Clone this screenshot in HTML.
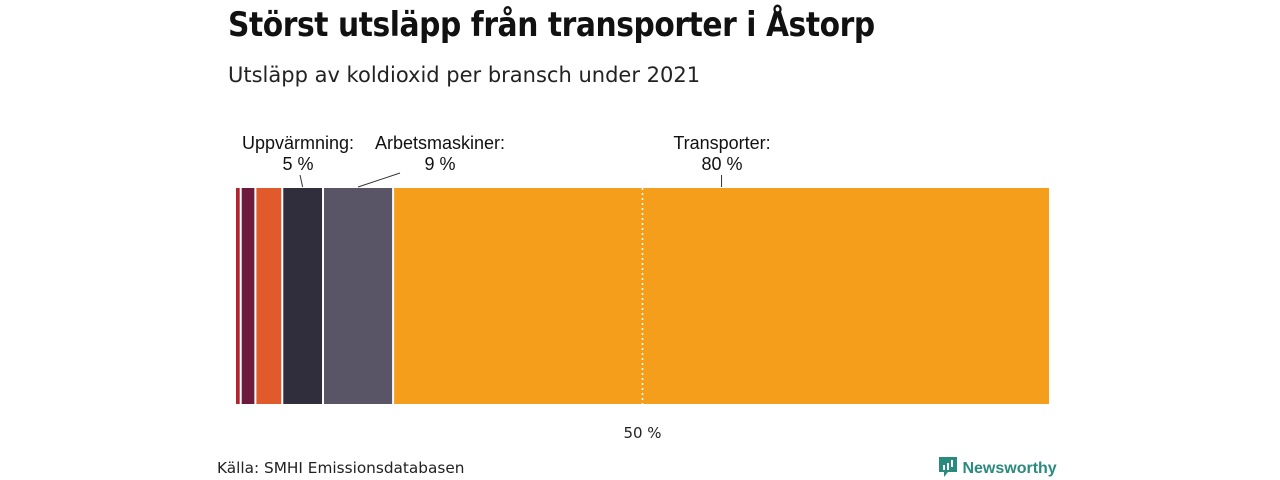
<!DOCTYPE html>
<html><head><meta charset="utf-8"><style>
body{margin:0;width:1280px;height:480px;background:#fff;font-family:"Liberation Sans",sans-serif;position:relative;overflow:hidden}
.t{position:absolute;white-space:nowrap}
</style></head><body>
<div class="t" style="left:228px;top:5px;font-size:34px;font-weight:bold;color:#111;font-family:'DejaVu Sans',sans-serif;letter-spacing:-0.5px;transform:scaleX(0.875);transform-origin:0 0">Störst utsläpp från transporter i Åstorp</div>
<div class="t" style="left:228px;top:63px;font-size:21px;color:#222;font-family:'DejaVu Sans',sans-serif">Utsläpp av koldioxid per bransch under 2021</div>
<svg id="c" width="1280" height="480" style="position:absolute;left:0;top:0"></svg>
<div class="t" style="left:217px;top:459px;font-size:15.3px;color:#222;font-family:'DejaVu Sans',sans-serif">Källa: SMHI Emissionsdatabasen</div>
<div class="t" style="left:938px;top:456px;font-size:16px;font-weight:bold;color:#2a8a7e">
<svg width="20" height="22" style="vertical-align:-5px" viewBox="0 0 20 22"><path d="M1 1h18v15h-9l-4 5v-5H1z" fill="#2a8a7e"/><rect x="5" y="9" width="2" height="5" fill="#fff"/><rect x="9" y="7" width="2" height="7" fill="#fff"/><rect x="13" y="4" width="2" height="7" fill="#fff"/></svg> Newsworthy</div>
<script>
const categories=["Övrigt","Industri","Jordbruk","Uppvärmning","Arbetsmaskiner","Transporter"];
const values=[0.7,1.8,3.3,5.0,8.6,80.6];
const colors=["#b5232e","#6e1a3d","#e05a2b","#302e3c","#595566","#f59e1b"];
const labels=[null,null,null,["Uppvärmning:","5 %"],["Arbetsmaskiner:","9 %"],["Transporter:","80 %"]];
const ns="http://www.w3.org/2000/svg",svg=document.getElementById("c");
const x0=235,x1=1050,yT=188,yB=404;
const total=values.reduce((a,b)=>a+b,0);
const X=v=>x0+(x1-x0)*v/total;
function mk(t,a){const e=document.createElementNS(ns,t);for(const k in a)e.setAttribute(k,a[k]);svg.appendChild(e);return e;}
let cum=0;
const labelX={3:298,4:440,5:722};
values.forEach((v,i)=>{
 const a=X(cum),b=X(cum+v);cum+=v;
 const r=mk("rect",{x:a+1,y:yT,width:Math.max(b-a-2,1),height:yB-yT,fill:colors[i]});
 
 
 if(labels[i]){
  const cx=(a+b)/2,lx=labelX[i];
  const l=mk("line",{x1:cx,y1:yT-1,x2:i==4?400:(i==3?300:cx),y2:i==4?173:175,stroke:"#333","stroke-width":1});
  
  
  labels[i].forEach((s,j)=>{
   const t=mk("text",{x:lx,y:149+j*21,"text-anchor":"middle","font-size":18,fill:"#111","font-family":"Liberation Sans, sans-serif"});
   t.textContent=s;
   
   
  });
 }
});
const m=X(total/2);
const ml=mk("line",{x1:m,y1:yT,x2:m,y2:yB,stroke:"#fff","stroke-width":1.5,"stroke-dasharray":"2,3"});


const mt=mk("text",{x:m,y:438,"text-anchor":"middle","font-size":15,fill:"#222","font-family":"DejaVu Sans, sans-serif"});
mt.textContent="50 %";


</script>
</body></html>
